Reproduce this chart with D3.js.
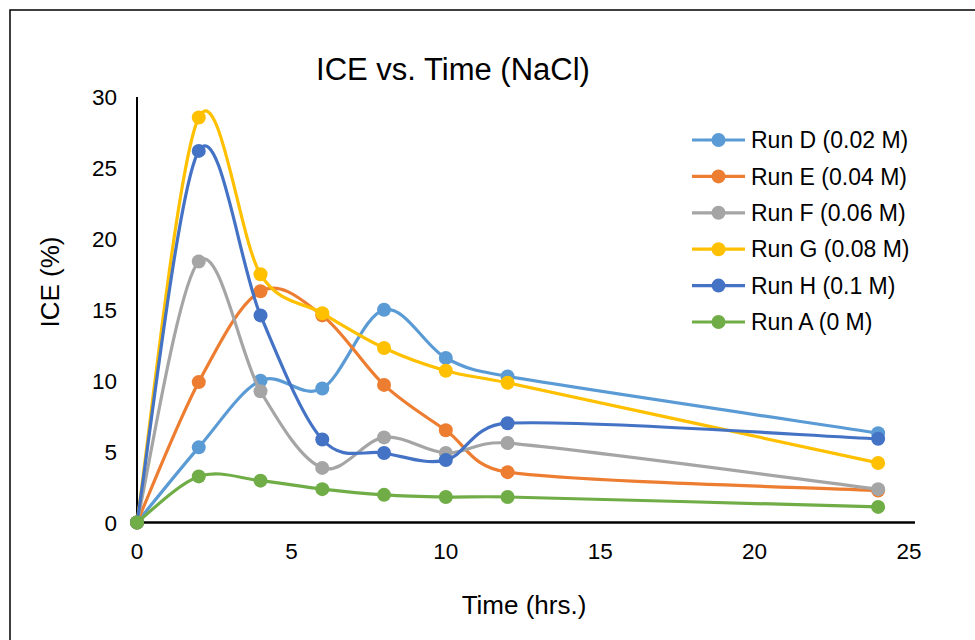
<!DOCTYPE html>
<html><head><meta charset="utf-8">
<script src="https://cdn.jsdelivr.net/npm/d3@7"></script>
<style>body{margin:0;background:#fff}svg{display:block}text{font-family:"Liberation Sans",Arial,sans-serif;fill:#000}</style>
</head><body><svg id="c" width="975" height="640"></svg>
<script>
const times = [0, 2, 4, 6, 8, 10, 12, 24];
const seriesNames = ["Run D (0.02 M)", "Run E (0.04 M)", "Run F (0.06 M)", "Run G (0.08 M)", "Run H (0.1 M)", "Run A (0 M)"];
const seriesColors = ["#5B9BD5", "#ED7D31", "#A5A5A5", "#FFC000", "#4472C4", "#70AD47"];
const runD = [0, 5.3, 10.0, 9.45, 15.0, 11.6, 10.3, 6.3];
const runE = [0, 9.9, 16.3, 14.6, 9.7, 6.5, 3.55, 2.25];
const runF = [0, 18.4, 9.25, 3.85, 6.0, 4.9, 5.6, 2.35];
const runG = [0, 28.55, 17.5, 14.75, 12.3, 10.7, 9.85, 4.2];
const runH = [0, 26.2, 14.6, 5.85, 4.9, 4.4, 7.0, 5.9];
const runA = [0, 3.25, 2.95, 2.35, 1.95, 1.8, 1.8, 1.1];
const seriesValues = [runD, runE, runF, runG, runH, runA];
const xTicks = [0, 5, 10, 15, 20, 25];
const yTicks = [0, 5, 10, 15, 20, 25, 30];

// Spreadsheet-style smoothed line as a d3 curve factory
function SmoothCurve(context) { this._context = context; }
SmoothCurve.prototype = {
  areaStart() {}, areaEnd() {},
  lineStart() { this._p = []; },
  point(x, y) { this._p.push([+x, +y]); },
  lineEnd() {
    const p = this._p, c = this._context, n = p.length;
    if (!n) return;
    c.moveTo(p[0][0], p[0][1]);
    const dist = (a, b) => Math.hypot(a[0] - b[0], a[1] - b[1]) || 1e-9;
    for (let i = 0; i < n - 1; i++) {
      const p0 = p[Math.max(i - 1, 0)], p1 = p[i], p2 = p[i + 1], p3 = p[Math.min(i + 2, n - 1)];
      const d12 = dist(p1, p2);
      const f1 = Math.min(1 / 6, 0.5 * d12 / dist(p0, p2));
      const f2 = Math.min(1 / 6, 0.5 * d12 / dist(p1, p3));
      c.bezierCurveTo(
        p1[0] + (p2[0] - p0[0]) * f1, p1[1] + (p2[1] - p0[1]) * f1,
        p2[0] - (p3[0] - p1[0]) * f2, p2[1] - (p3[1] - p1[1]) * f2,
        p2[0], p2[1]);
    }
  }
};
const smoothCurve = ctx => new SmoothCurve(ctx);

const svg = d3.select("#c");
svg.append("rect").attr("x", 10).attr("y", 10).attr("width", 980).attr("height", 650)
  .attr("fill", "#fff").attr("stroke", "#000").attr("stroke-width", 1.5);

const x = d3.scaleLinear().domain([0, 25]).range([137, 909]);
const y = d3.scaleLinear().domain([0, 30]).range([522.5, 97]);

svg.append("text").attr("x", 453).attr("y", 80).attr("text-anchor", "middle")
  .style("font-size", "31px").text("ICE vs. Time (NaCl)");

svg.selectAll(".yt").data(yTicks).enter().append("text")
  .attr("x", 117).attr("y", d => y(d)).attr("dy", "0.36em").attr("text-anchor", "end")
  .style("font-size", "22.5px").text(d => d);
svg.selectAll(".xt").data(xTicks).enter().append("text")
  .attr("x", d => x(d)).attr("y", 559).attr("text-anchor", "middle")
  .style("font-size", "22.5px").text(d => d);

svg.append("line").attr("x1", x(0)).attr("x2", x(0)).attr("y1", y(30)).attr("y2", y(0))
  .attr("stroke", "#000").attr("stroke-width", 2);
svg.append("line").attr("x1", x(0)).attr("x2", 915).attr("y1", y(0)).attr("y2", y(0))
  .attr("stroke", "#000").attr("stroke-width", 2.5);

svg.append("text").attr("transform", "translate(59,282) rotate(-90)").attr("text-anchor", "middle")
  .style("font-size", "26px").text("ICE (%)");
svg.append("text").attr("x", 524).attr("y", 614).attr("text-anchor", "middle")
  .style("font-size", "26px").text("Time (hrs.)");

const line = d3.line().x(d => x(d[0])).y(d => y(d[1])).curve(smoothCurve);

seriesValues.forEach((vals, i) => {
  const pts = times.map((t, j) => [t, vals[j]]);
  const g = svg.append("g");
  g.append("path").attr("d", line(pts)).attr("fill", "none")
    .attr("stroke", seriesColors[i]).attr("stroke-width", 3.2).attr("stroke-linejoin", "round");
  g.selectAll("circle").data(pts).enter().append("circle")
    .attr("cx", d => x(d[0])).attr("cy", d => y(d[1])).attr("r", 7)
    .attr("fill", seriesColors[i]);
});

const lg = svg.append("g");
seriesNames.forEach((name, i) => {
  const ly = 140 + i * 36.4;
  lg.append("line").attr("x1", 692).attr("x2", 745).attr("y1", ly).attr("y2", ly)
    .attr("stroke", seriesColors[i]).attr("stroke-width", 3.2);
  lg.append("circle").attr("cx", 718.5).attr("cy", ly).attr("r", 7).attr("fill", seriesColors[i]);
  lg.append("text").attr("x", 751).attr("y", ly).attr("dy", "0.36em")
    .style("font-size", "23px").text(name);
});
</script></body></html>
